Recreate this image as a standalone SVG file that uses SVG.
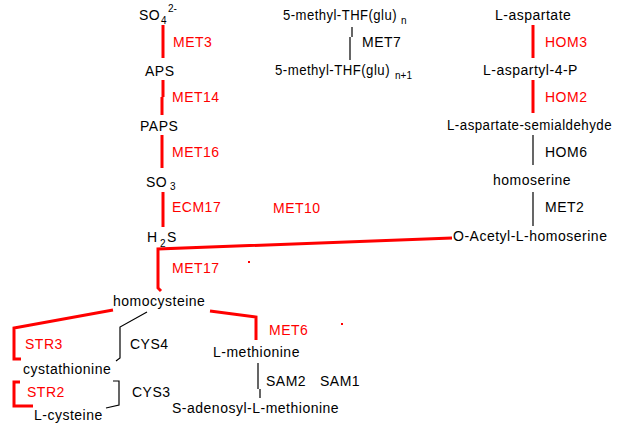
<svg xmlns="http://www.w3.org/2000/svg" width="618" height="425" viewBox="0 0 618 425">
<style>
text{font-family:"Liberation Sans",Arial,sans-serif;font-size:14px;letter-spacing:0.5px;fill:#000}
.r{fill:#ff0000}
.s{font-size:10px;letter-spacing:0}
.lr{fill:none;stroke:#ff0000;stroke-width:3}
.lb{fill:none;stroke:#000;stroke-width:1.2}
</style>
<rect width="618" height="425" fill="#fff"/>
<g id="connectors">
<path class="lr" d="M163,25V58"/>
<path class="lr" d="M163,80V97M162,97V115"/>
<path class="lr" d="M162,135V168"/>
<path class="lr" d="M163,192V227"/>
<path class="lr" d="M452,238L158,249V288L161,291"/>
<path class="lr" d="M113,310L14,328V359H21"/>
<path class="lr" d="M20,382H14V406H33"/>
<path class="lr" d="M210,311L256,317V340"/>
<path class="lr" d="M533,25V58"/>
<path class="lr" d="M533,80V113"/>
<path class="lb" d="M533,135V165"/>
<path class="lb" d="M533,192V226"/>
<path class="lb" d="M352,27V37M350,37V60"/>
<path class="lb" d="M147,312L120,327V358L116,361"/>
<path class="lb" d="M113,381H119V405L106,408"/>
<path class="lb" d="M258,363V389M260,389V398"/>
<rect x="248" y="261" width="2" height="2" fill="#ff0000"/>
<rect x="341" y="323" width="2" height="2" fill="#ff0000"/>
</g>
<g id="so4"><text x="139" y="20">SO</text><text class="s" x="161" y="24">4</text><text class="s" x="168" y="12">2-</text></g>
<g id="met3"><text class="r" x="173" y="47">MET3</text></g>
<g id="aps"><text x="145" y="76">APS</text></g>
<g id="met14"><text class="r" x="172" y="102">MET14</text></g>
<g id="paps"><text x="140" y="131">PAPS</text></g>
<g id="met16"><text class="r" x="172" y="157">MET16</text></g>
<g id="so3"><text x="146" y="187">SO</text><text class="s" x="170" y="190">3</text></g>
<g id="ecm17"><text class="r" x="172" y="212">ECM17</text></g>
<g id="h2s"><text x="147" y="242">H</text><text class="s" x="160" y="247">2</text><text x="167" y="242">S</text></g>
<g id="met10"><text class="r" x="273" y="213">MET10</text></g>
<g id="met17"><text class="r" x="172" y="273">MET17</text></g>
<g id="homocysteine"><text x="113" y="306">homocysteine</text></g>
<g id="str3"><text class="r" x="25" y="349">STR3</text></g>
<g id="cys4"><text x="130" y="349">CYS4</text></g>
<g id="cystathionine"><text x="23" y="374">cystathionine</text></g>
<g id="str2"><text class="r" x="27" y="397">STR2</text></g>
<g id="cys3"><text x="132" y="397">CYS3</text></g>
<g id="lcysteine"><text x="34" y="420">L-cysteine</text></g>
<g id="met6"><text class="r" x="269" y="335">MET6</text></g>
<g id="lmethionine"><text x="213" y="357">L-methionine</text></g>
<g id="sam"><text x="266" y="386">SAM2</text><text x="320" y="386">SAM1</text></g>
<g id="sam-met"><text x="172" y="413">S-adenosyl-L-methionine</text></g>
<g id="thf-n"><text x="283" y="20" textLength="114" lengthAdjust="spacingAndGlyphs">5-methyl-THF(glu)</text><text class="s" x="401" y="24">n</text></g>
<g id="met7"><text x="362" y="47">MET7</text></g>
<g id="thf-n1"><text x="275" y="75" textLength="115" lengthAdjust="spacingAndGlyphs">5-methyl-THF(glu)</text><text class="s" x="395" y="79">n+1</text></g>
<g id="laspartate"><text x="495" y="20">L-aspartate</text></g>
<g id="hom3"><text class="r" x="545" y="47">HOM3</text></g>
<g id="laspartyl"><text x="483" y="75">L-aspartyl-4-P</text></g>
<g id="hom2"><text class="r" x="545" y="102">HOM2</text></g>
<g id="semialdehyde"><text x="447" y="130" textLength="165" lengthAdjust="spacingAndGlyphs">L-aspartate-semialdehyde</text></g>
<g id="hom6"><text x="545" y="157">HOM6</text></g>
<g id="homoserine"><text x="493" y="185">homoserine</text></g>
<g id="met2"><text x="545" y="212">MET2</text></g>
<g id="oacetyl"><text x="453" y="241">O-Acetyl-L-homoserine</text></g>
</svg>
